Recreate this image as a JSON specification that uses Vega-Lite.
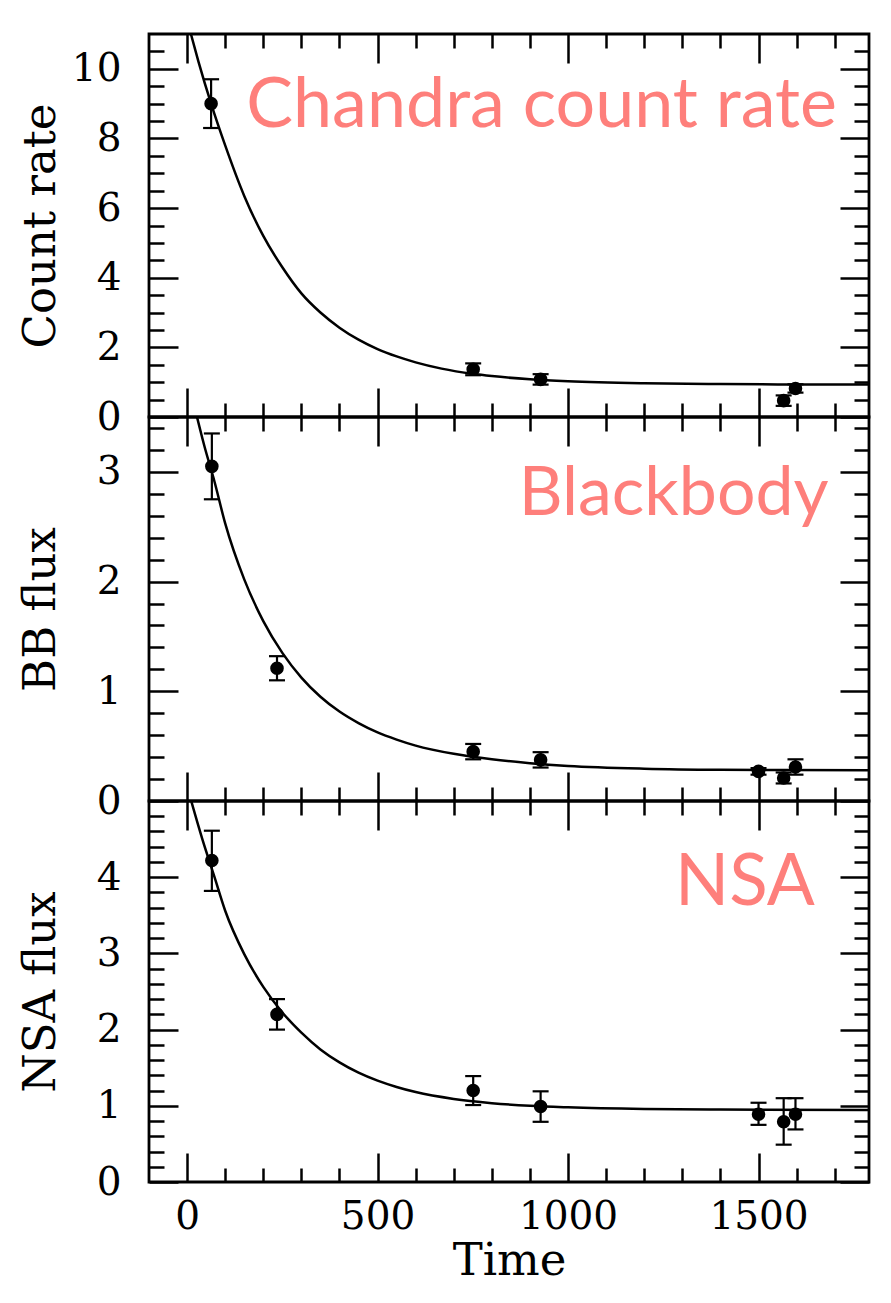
{
  "$schema": "https://vega.github.io/schema/vega-lite/v6.json",
  "background": "white",
  "padding": {"left": 16, "top": 31, "right": 23, "bottom": 5},
  "spacing": 0,
  "bounds": "flush",
  "datasets": {
    "pts1": [
      {"t": 63, "y": 9.0, "lo": 8.3, "hi": 9.7},
      {"t": 751, "y": 1.37, "lo": 1.2, "hi": 1.54},
      {"t": 928, "y": 1.08, "lo": 0.93, "hi": 1.23},
      {"t": 1566, "y": 0.47, "lo": 0.32, "hi": 0.62},
      {"t": 1597, "y": 0.82, "lo": 0.7, "hi": 0.94}
    ],
    "fit1": [
      {"t": 10, "y": 11.0}, {"t": 30, "y": 10.2}, {"t": 63, "y": 9.0}, {"t": 100, "y": 7.8},
      {"t": 150, "y": 6.35}, {"t": 200, "y": 5.2}, {"t": 250, "y": 4.3}, {"t": 300, "y": 3.55},
      {"t": 350, "y": 3.0}, {"t": 400, "y": 2.565}, {"t": 450, "y": 2.22}, {"t": 500, "y": 1.95},
      {"t": 550, "y": 1.74}, {"t": 600, "y": 1.57}, {"t": 668, "y": 1.39}, {"t": 750, "y": 1.24},
      {"t": 800, "y": 1.175}, {"t": 900, "y": 1.083}, {"t": 1000, "y": 1.025}, {"t": 1200, "y": 0.967},
      {"t": 1400, "y": 0.945}, {"t": 1790, "y": 0.93}
    ],
    "pts2": [
      {"t": 65, "y": 3.05, "lo": 2.75, "hi": 3.35},
      {"t": 236, "y": 1.21, "lo": 1.1, "hi": 1.32},
      {"t": 751, "y": 0.45, "lo": 0.38, "hi": 0.52},
      {"t": 928, "y": 0.375, "lo": 0.305, "hi": 0.445},
      {"t": 1500, "y": 0.27, "lo": 0.24, "hi": 0.3},
      {"t": 1566, "y": 0.21, "lo": 0.16, "hi": 0.26},
      {"t": 1597, "y": 0.31, "lo": 0.24, "hi": 0.38}
    ],
    "fit2": [
      {"t": 26, "y": 3.5}, {"t": 45, "y": 3.24}, {"t": 72, "y": 2.91}, {"t": 100, "y": 2.53},
      {"t": 150, "y": 2.02}, {"t": 200, "y": 1.64}, {"t": 250, "y": 1.35}, {"t": 300, "y": 1.125},
      {"t": 350, "y": 0.95}, {"t": 400, "y": 0.815}, {"t": 450, "y": 0.71}, {"t": 500, "y": 0.625},
      {"t": 550, "y": 0.56}, {"t": 600, "y": 0.505}, {"t": 700, "y": 0.43}, {"t": 800, "y": 0.38},
      {"t": 900, "y": 0.345}, {"t": 1000, "y": 0.32}, {"t": 1200, "y": 0.295}, {"t": 1400, "y": 0.285},
      {"t": 1790, "y": 0.28}
    ],
    "pts3": [
      {"t": 65, "y": 4.22, "lo": 3.82, "hi": 4.61},
      {"t": 236, "y": 2.2, "lo": 2.0, "hi": 2.4},
      {"t": 751, "y": 1.2, "lo": 1.01, "hi": 1.39},
      {"t": 928, "y": 0.99, "lo": 0.79, "hi": 1.19},
      {"t": 1500, "y": 0.89, "lo": 0.75, "hi": 1.04},
      {"t": 1566, "y": 0.79, "lo": 0.49, "hi": 1.1},
      {"t": 1597, "y": 0.89, "lo": 0.69, "hi": 1.1}
    ],
    "fit3": [
      {"t": 8, "y": 5.05}, {"t": 40, "y": 4.5}, {"t": 72, "y": 4.0}, {"t": 100, "y": 3.56},
      {"t": 150, "y": 2.99}, {"t": 200, "y": 2.56}, {"t": 250, "y": 2.225}, {"t": 300, "y": 1.96},
      {"t": 350, "y": 1.74}, {"t": 400, "y": 1.57}, {"t": 450, "y": 1.435}, {"t": 500, "y": 1.33},
      {"t": 550, "y": 1.247}, {"t": 600, "y": 1.18}, {"t": 700, "y": 1.09}, {"t": 800, "y": 1.035},
      {"t": 900, "y": 1.0}, {"t": 1000, "y": 0.98}, {"t": 1200, "y": 0.958}, {"t": 1400, "y": 0.95},
      {"t": 1790, "y": 0.945}
    ]
  },
  "vconcat": [
    {
      "width": 720, "height": 383,
      "resolve": {"axis": {"x": "independent", "y": "independent"}},
      "layer": [
        {
          "data": {"name": "fit1"},
          "mark": {"type": "line", "color": "black", "strokeWidth": 2.5, "interpolate": "monotone", "clip": true},
          "encoding": {
            "x": {"field": "t", "type": "quantitative", "scale": {"domain": [-100, 1790], "nice": false, "zero": false},
              "axis": {"orient": "bottom", "title": null, "labels": false, "values": [0,500,1000,1500], "tickSize": -29}},
            "y": {"field": "y", "type": "quantitative", "scale": {"domain": [0, 11], "nice": false, "zero": false},
              "axis": {"orient": "left", "title": "Count rate", "values": [0,2,4,6,8,10], "tickSize": -29, "labelPadding": 57,
                "labelExpr": "'' + datum.value"}}
          }
        },
        {
          "data": {"name": "pts1"},
          "mark": {"type": "rule", "color": "black", "strokeWidth": 2.2},
          "encoding": {
            "x": {"field": "t", "type": "quantitative",
              "axis": {"orient": "top", "title": null, "labels": false, "values": [0,500,1000,1500], "tickSize": -29}},
            "y": {"field": "lo", "type": "quantitative",
              "axis": {"orient": "right", "title": null, "labels": false, "values": [0,2,4,6,8,10], "tickSize": -29}},
            "y2": {"field": "hi"}
          }
        },
        {
          "data": {"name": "pts1"},
          "mark": {"type": "tick", "orient": "horizontal", "size": 16, "thickness": 2.2, "color": "black", "opacity": 1},
          "encoding": {
            "x": {"field": "t", "type": "quantitative",
              "axis": {"orient": "bottom", "title": null, "labels": false, "values": [100,200,300,400,600,700,800,900,1100,1200,1300,1400,1600,1700], "tickSize": -14}},
            "y": {"field": "lo", "type": "quantitative",
              "axis": {"orient": "left", "title": null, "labels": false, "values": [0.5,1,1.5,2.5,3,3.5,4.5,5,5.5,6.5,7,7.5,8.5,9,9.5,10.5], "tickSize": -15}}
          }
        },
        {
          "data": {"name": "pts1"},
          "mark": {"type": "tick", "orient": "horizontal", "size": 16, "thickness": 2.2, "color": "black", "opacity": 1},
          "encoding": {
            "x": {"field": "t", "type": "quantitative",
              "axis": {"orient": "top", "title": null, "labels": false, "values": [100,200,300,400,600,700,800,900,1100,1200,1300,1400,1600,1700], "tickSize": -14}},
            "y": {"field": "hi", "type": "quantitative",
              "axis": {"orient": "right", "title": null, "labels": false, "values": [0.5,1,1.5,2.5,3,3.5,4.5,5,5.5,6.5,7,7.5,8.5,9,9.5,10.5], "tickSize": -15}}
          }
        },
        {
          "data": {"name": "pts1"},
          "mark": {"type": "circle", "size": 185, "color": "black", "opacity": 1},
          "encoding": {"x": {"field": "t", "type": "quantitative", "axis": null}, "y": {"field": "y", "type": "quantitative", "axis": null}}
        },
        {
          "data": {"values": [{"t": 1706, "y": 8.33, "label": "Chandra count rate"}]},
          "mark": {"type": "text", "font": "Lato", "fontSize": 70, "color": "#fe7f7b", "align": "right", "baseline": "alphabetic"},
          "encoding": {"x": {"field": "t", "type": "quantitative", "axis": null}, "y": {"field": "y", "type": "quantitative", "axis": null}, "text": {"field": "label"}}
        }
      ]
    },
    {
      "width": 720, "height": 384,
      "resolve": {"axis": {"x": "independent", "y": "independent"}},
      "layer": [
        {
          "data": {"name": "fit2"},
          "mark": {"type": "line", "color": "black", "strokeWidth": 2.5, "interpolate": "monotone", "clip": true},
          "encoding": {
            "x": {"field": "t", "type": "quantitative", "scale": {"domain": [-100, 1790], "nice": false, "zero": false},
              "axis": {"orient": "bottom", "title": null, "labels": false, "values": [0,500,1000,1500], "tickSize": -29}},
            "y": {"field": "y", "type": "quantitative", "scale": {"domain": [0, 3.5], "nice": false, "zero": false},
              "axis": {"orient": "left", "title": "BB flux", "values": [0,1,2,3], "tickSize": -29, "labelPadding": 57,
                "labelExpr": "'' + datum.value"}}
          }
        },
        {
          "data": {"name": "pts2"},
          "mark": {"type": "rule", "color": "black", "strokeWidth": 2.2},
          "encoding": {
            "x": {"field": "t", "type": "quantitative",
              "axis": {"orient": "top", "title": null, "labels": false, "values": [0,500,1000,1500], "tickSize": -29}},
            "y": {"field": "lo", "type": "quantitative",
              "axis": {"orient": "right", "title": null, "labels": false, "values": [0,1,2,3], "tickSize": -29}},
            "y2": {"field": "hi"}
          }
        },
        {
          "data": {"name": "pts2"},
          "mark": {"type": "tick", "orient": "horizontal", "size": 16, "thickness": 2.2, "color": "black", "opacity": 1},
          "encoding": {
            "x": {"field": "t", "type": "quantitative",
              "axis": {"orient": "bottom", "title": null, "labels": false, "values": [100,200,300,400,600,700,800,900,1100,1200,1300,1400,1600,1700], "tickSize": -14}},
            "y": {"field": "lo", "type": "quantitative",
              "axis": {"orient": "left", "title": null, "labels": false, "values": [0.2,0.4,0.6,0.8,1.2,1.4,1.6,1.8,2.2,2.4,2.6,2.8,3.2,3.4], "tickSize": -15}}
          }
        },
        {
          "data": {"name": "pts2"},
          "mark": {"type": "tick", "orient": "horizontal", "size": 16, "thickness": 2.2, "color": "black", "opacity": 1},
          "encoding": {
            "x": {"field": "t", "type": "quantitative",
              "axis": {"orient": "top", "title": null, "labels": false, "values": [100,200,300,400,600,700,800,900,1100,1200,1300,1400,1600,1700], "tickSize": -14}},
            "y": {"field": "hi", "type": "quantitative",
              "axis": {"orient": "right", "title": null, "labels": false, "values": [0.2,0.4,0.6,0.8,1.2,1.4,1.6,1.8,2.2,2.4,2.6,2.8,3.2,3.4], "tickSize": -15}}
          }
        },
        {
          "data": {"name": "pts2"},
          "mark": {"type": "circle", "size": 185, "color": "black", "opacity": 1},
          "encoding": {"x": {"field": "t", "type": "quantitative", "axis": null}, "y": {"field": "y", "type": "quantitative", "axis": null}}
        },
        {
          "data": {"values": [{"t": 1684, "y": 2.61, "label": "Blackbody"}]},
          "mark": {"type": "text", "font": "Lato", "fontSize": 68, "color": "#fe7f7b", "align": "right", "baseline": "alphabetic"},
          "encoding": {"x": {"field": "t", "type": "quantitative", "axis": null}, "y": {"field": "y", "type": "quantitative", "axis": null}, "text": {"field": "label"}}
        }
      ]
    },
    {
      "width": 720, "height": 381,
      "resolve": {"axis": {"x": "independent", "y": "independent"}},
      "layer": [
        {
          "data": {"name": "fit3"},
          "mark": {"type": "line", "color": "black", "strokeWidth": 2.5, "interpolate": "monotone", "clip": true},
          "encoding": {
            "x": {"field": "t", "type": "quantitative", "scale": {"domain": [-100, 1790], "nice": false, "zero": false},
              "axis": {"orient": "bottom", "title": "Time", "labels": true, "values": [0,500,1000,1500], "tickSize": -29,
                "labelPadding": 44, "titlePadding": 2, "labelExpr": "'' + datum.value"}},
            "y": {"field": "y", "type": "quantitative", "scale": {"domain": [0, 5], "nice": false, "zero": false},
              "axis": {"orient": "left", "title": "NSA flux", "values": [0,1,2,3,4], "tickSize": -29, "labelPadding": 57,
                "labelExpr": "'' + datum.value"}}
          }
        },
        {
          "data": {"name": "pts3"},
          "mark": {"type": "rule", "color": "black", "strokeWidth": 2.2},
          "encoding": {
            "x": {"field": "t", "type": "quantitative",
              "axis": {"orient": "top", "title": null, "labels": false, "values": [0,500,1000,1500], "tickSize": -29}},
            "y": {"field": "lo", "type": "quantitative",
              "axis": {"orient": "right", "title": null, "labels": false, "values": [0,1,2,3,4], "tickSize": -29}},
            "y2": {"field": "hi"}
          }
        },
        {
          "data": {"name": "pts3"},
          "mark": {"type": "tick", "orient": "horizontal", "size": 16, "thickness": 2.2, "color": "black", "opacity": 1},
          "encoding": {
            "x": {"field": "t", "type": "quantitative",
              "axis": {"orient": "bottom", "title": null, "labels": false, "values": [100,200,300,400,600,700,800,900,1100,1200,1300,1400,1600,1700], "tickSize": -14}},
            "y": {"field": "lo", "type": "quantitative",
              "axis": {"orient": "left", "title": null, "labels": false, "values": [0.2,0.4,0.6,0.8,1.2,1.4,1.6,1.8,2.2,2.4,2.6,2.8,3.2,3.4,3.6,3.8,4.2,4.4,4.6,4.8], "tickSize": -15}}
          }
        },
        {
          "data": {"name": "pts3"},
          "mark": {"type": "tick", "orient": "horizontal", "size": 16, "thickness": 2.2, "color": "black", "opacity": 1},
          "encoding": {
            "x": {"field": "t", "type": "quantitative",
              "axis": {"orient": "top", "title": null, "labels": false, "values": [100,200,300,400,600,700,800,900,1100,1200,1300,1400,1600,1700], "tickSize": -14}},
            "y": {"field": "hi", "type": "quantitative",
              "axis": {"orient": "right", "title": null, "labels": false, "values": [0.2,0.4,0.6,0.8,1.2,1.4,1.6,1.8,2.2,2.4,2.6,2.8,3.2,3.4,3.6,3.8,4.2,4.4,4.6,4.8], "tickSize": -15}}
          }
        },
        {
          "data": {"name": "pts3"},
          "mark": {"type": "circle", "size": 185, "color": "black", "opacity": 1},
          "encoding": {"x": {"field": "t", "type": "quantitative", "axis": null}, "y": {"field": "y", "type": "quantitative", "axis": null}}
        },
        {
          "data": {"values": [{"t": 1648, "y": 3.63, "label": "NSA"}]},
          "mark": {"type": "text", "font": "Lato", "fontSize": 71, "color": "#fe7f7b", "align": "right", "baseline": "alphabetic"},
          "encoding": {"x": {"field": "t", "type": "quantitative", "axis": null}, "y": {"field": "y", "type": "quantitative", "axis": null}, "text": {"field": "label"}}
        }
      ]
    }
  ],
  "config": {
    "view": {"stroke": "black", "strokeWidth": 2.8},
    "axis": {
      "domain": false, "grid": false, "ticks": true, "tickColor": "black", "tickWidth": 2.5,
      "labelFont": "DejaVu Serif", "labelFontSize": 39, "labelColor": "black",
      "labelOverlap": false, "labelFlush": false, "labelBound": false,
      "titleFont": "DejaVu Serif", "titleFontSize": 45, "titleFontWeight": "normal", "titleColor": "black"
    },
    "axisLeft": {"minExtent": 78, "maxExtent": 78, "titlePadding": 8},
    "axisRight": {"minExtent": 0, "maxExtent": 0},
    "axisTop": {"minExtent": 0, "maxExtent": 0}
  }
}
